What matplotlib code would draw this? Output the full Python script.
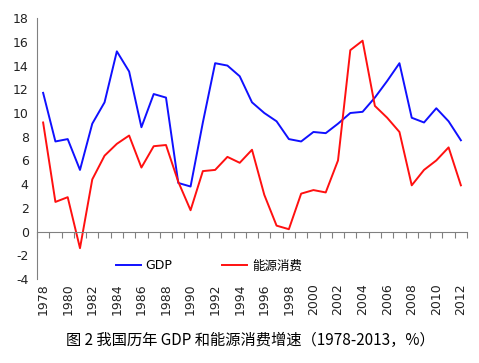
import matplotlib
matplotlib.use("Agg")
import matplotlib.pyplot as plt

plt.rcParams['font.family'] = ['DejaVu Sans', 'Noto Sans CJK SC']
plt.rcParams['axes.unicode_minus'] = False

# 年份与增速数据（%）
years = list(range(1978, 2013))
gdp = [11.7, 7.6, 7.8, 5.2, 9.1, 10.9, 15.2, 13.5, 8.8, 11.6, 11.3, 4.1,
       3.8, 9.2, 14.2, 14.0, 13.1, 10.9, 10.0, 9.3, 7.8, 7.6, 8.4, 8.3,
       9.1, 10.0, 10.1, 11.3, 12.7, 14.2, 9.6, 9.2, 10.4, 9.3, 7.7]
energy = [9.2, 2.5, 2.9, -1.4, 4.4, 6.4, 7.4, 8.1, 5.4, 7.2, 7.3, 4.2,
          1.8, 5.1, 5.2, 6.3, 5.8, 6.9, 3.1, 0.5, 0.2, 3.2, 3.5, 3.3,
          6.0, 15.3, 16.1, 10.6, 9.6, 8.4, 3.9, 5.2, 6.0, 7.1, 3.9]
label_years = list(range(1978, 2013, 2))
title = "图 2 我国历年 GDP 和能源消费增速（1978-2013，%）"

fig = plt.figure(figsize=(4.79, 3.63), dpi=100)
ax = fig.add_axes([0.0772, 0.2314, 0.8978, 0.7186])

ax.plot(years, gdp, color="#1010ff", lw=1.4, label="GDP")
ax.plot(years, energy, color="#ff1010", lw=1.4, label="能源消费")

ax.set_xlim(1977.5, 2012.5)
ax.set_ylim(-4, 18)
ax.set_yticks(range(-4, 19, 2))
ax.tick_params(axis="y", length=0, labelsize=9, pad=6, colors="#222222")

# 横轴在 0 处，刻度在类别之间
for s in ["top", "right"]:
    ax.spines[s].set_visible(False)
ax.spines["left"].set_color("#808080")
ax.spines["bottom"].set_color("#808080")
ax.spines["bottom"].set_position(("data", 0))
ax.set_xticks([y - 0.5 for y in years] + [2012.5])
ax.tick_params(axis="x", length=4, color="#808080", labelbottom=False)

# 年份标签放在底部
sec = ax.secondary_xaxis("bottom")
sec.spines["bottom"].set_visible(False)
sec.set_xticks(label_years)
sec.set_xticklabels([str(y) for y in label_years], rotation=90)
sec.tick_params(length=0, labelsize=9, pad=3, colors="#222222")

ax.legend(loc="center", bbox_to_anchor=(0.40, 0.05), ncol=2, frameon=False,
          fontsize=9, handlelength=2.0, handletextpad=0.4, columnspacing=4.0)

fig.text(0.522, 0.062, title, ha="center", va="center", fontsize=11,
         family=["Noto Sans CJK SC", "DejaVu Sans"])

fig.savefig("out.png", dpi=100)
